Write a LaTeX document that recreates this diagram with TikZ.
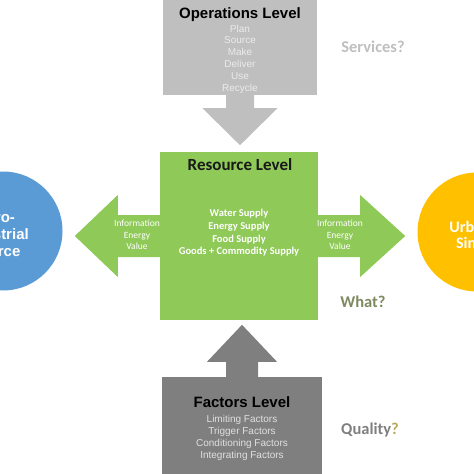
\documentclass[tikz,border=0pt]{standalone}
\usepackage{fontspec}
\setmainfont{Carlito}
\newfontfamily\arialfont{Liberation Sans}
\usepackage{tikz}
\definecolor{opsgray}{RGB}{191,191,191}
\definecolor{facgray}{RGB}{127,127,127}
\definecolor{resgreen}{RGB}{143,201,88}
\definecolor{srcblue}{RGB}{91,155,213}
\definecolor{sinkyellow}{RGB}{255,192,0}
\definecolor{whatolive}{RGB}{125,138,96}
\definecolor{qmark}{RGB}{184,168,90}
\tikzset{
    %Define style for level boxes
    levelbox/.style={
           rectangle,
           draw=none,
           inner sep=0pt},
    %Define style for the round ends
    endpoint/.style={
           circle,
           draw=none,
           minimum size=119pt,
           inner sep=0pt},
    % Define text styles
    leveltitle/.style={
           font=\arialfont\bfseries\fontsize{15}{18}\selectfont,
           text=black},
    levelitems/.style={
           align=center,
           font=\arialfont\fontsize{10}{11.8}\selectfont},
    flowtext/.style={
           align=center,
           text=white,
           font=\fontsize{9.5}{11.5}\selectfont},
    question/.style={
           font=\bfseries\fontsize{16.5}{19}\selectfont}
}
\begin{document}
\begin{tikzpicture}[x=1pt,y=-1pt]
\useasboundingbox (0,0) rectangle (474,474);
\clip (0,0) rectangle (474,474);

% ends
\node[endpoint, fill=srcblue](src) at (3,231){};
\node[endpoint, fill=sinkyellow](sink) at (477,232){};
\node[align=center, text=white, font=\arialfont\bfseries\fontsize{15}{17}\selectfont](srctext) at (-5,234){Agro-\\Industrial\\Source};
\node[align=center, text=white, font=\bfseries\fontsize{16}{16}\selectfont](sinktext) at (470,235){Urban\\Sink};

% levels
\node[levelbox, fill=opsgray, minimum width=154pt, minimum height=95pt](ops) at (240,47.5){};
\node[levelbox, fill=resgreen, minimum width=158pt, minimum height=168pt](res) at (239,236){};
\node[levelbox, fill=facgray, minimum width=160pt, minimum height=104pt](fac) at (242,429){};

% block arrows
\fill[opsgray] ([xshift=-14pt]ops.south) -- ++(0,13) -- ++(-23.5,0) -- ++(37.5,37) -- ++(37.5,-37) -- ++(-23.5,0) -- ++(0,-13) -- cycle;
\fill[facgray] ([xshift=-16pt]fac.north) -- ++(0,-15) -- ++(-19,0) -- ++(35,-37) -- ++(35,37) -- ++(-19,0) -- ++(0,15) -- cycle;
\fill[resgreen] ([yshift=21pt]res.west) -- ++(-42,0) -- ++(0,-20) -- ++(-43,41) -- ++(43,41) -- ++(0,-20) -- ++(42,0) -- cycle;
\fill[resgreen] ([yshift=21pt]res.east) -- ++(42,0) -- ++(0,-20) -- ++(45,41) -- ++(-45,41) -- ++(0,-20) -- ++(-42,0) -- cycle;

% texts
\node[leveltitle](opstitle) at (240,15){Operations Level};
\node[levelitems, text=white!92!black](opsitems) at (240,59){Plan\\Source\\Make\\Deliver\\Use\\Recycle};
\node[font=\bfseries\fontsize{17}{20}\selectfont, text=black!90](restitle) at (240,165){Resource Level};
\node[align=center, text=white, font=\bfseries\fontsize{10.5}{12.7}\selectfont](resitems) at (239,233){Water Supply\\Energy Supply\\Food Supply\\Goods + Commodity Supply};
\node[leveltitle](factitle) at (242,402){Factors Level};
\node[levelitems, text=white!88!black](facitems) at (242,438){Limiting Factors\\Trigger Factors\\Conditioning Factors\\Integrating Factors};
\node[flowtext](outflow) at (137,235){Information\\Energy\\Value};
\node[flowtext](inflow) at (340,235){Information\\Energy\\Value};

% questions
\node[question, text=opsgray](services) at (373,47){Services?};
\node[question, text=whatolive](what) at (363,302){What?};
\node[question, text=facgray](quality) at (370,430){Quality\textcolor{qmark}{?}};
\end{tikzpicture}
\end{document}
